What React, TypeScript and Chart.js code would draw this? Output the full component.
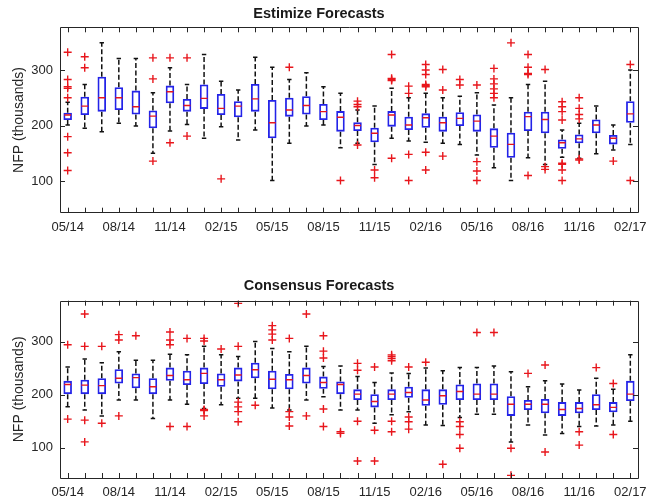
import React, { useEffect, useRef } from 'react';
import { Chart, registerables } from 'chart.js';

Chart.register(...registerables);

const months = ['05/14','06/14','07/14','08/14','09/14','10/14','11/14','12/14','01/15','02/15','03/15','04/15','05/15','06/15','07/15','08/15','09/15','10/15','11/15','12/15','01/16','02/16','03/16','04/16','05/16','06/16','07/16','08/16','09/16','10/16','11/16','12/16','01/17','02/17'];
const yTicks = [100, 200, 300];

// Estimize Forecasts
const estLo = [201,195,189,204,199,150,190,202,177,198,174,192,101,168,199,201,160,168,130,177,172,170,168,166,147,124,101,142,130,143,141,149,156,166];
const estQ1 = [210,219,225,228,220,195,240,225,230,219,215,225,177,216,220,210,189,190,170,198,192,196,189,199,189,160,142,190,186,158,168,186,166,205];
const estMed = [219,235,250,250,234,217,261,236,249,231,235,248,205,228,236,225,215,200,186,219,201,214,205,213,208,181,166,216,211,169,176,201,177,221];
const estQ3 = [223,252,288,269,263,227,272,248,274,257,244,275,246,250,253,239,226,206,196,226,216,222,216,224,220,195,187,225,225,175,184,211,183,244];
const estHi = [242,274,349,321,321,259,304,274,328,280,264,323,305,283,295,270,258,228,235,267,250,258,250,253,259,237,250,274,280,192,204,235,201,300];
const estOut = [[332,283,270,267,250,180,151,119],[324,304],[],[],[],[322,284,136],[322,169],[322,181],[],[104],[],[],[],[305],[],[],[101],[244,238,234,165],[120,106],[328,285,283,281,141],[271,258,148,101],[310,300,292,274,272,270,152,120],[301,264,145],[283,273],[273,135,118,101],[303,284,275,266,258,250],[349],[328,305,294,292,110],[301,126,121],[243,234,225,210,132,130,120,101],[250,231,220,212,140,138],[],[136],[310,101]];

// Consensus Forecasts
const conLo = [177,171,160,190,190,155,190,182,174,181,193,193,175,171,190,196,171,171,146,162,168,143,142,157,163,163,111,143,124,127,140,141,143,150];
const conQ1 = [201,201,201,221,212,201,226,218,220,215,225,231,210,210,221,211,201,190,176,190,194,179,181,190,190,190,160,171,165,160,165,171,167,188];
const conMed = [219,218,217,231,232,215,236,228,240,228,237,247,229,228,236,223,219,201,187,201,204,190,198,206,201,201,182,182,182,172,174,181,176,201];
const conQ3 = [226,228,231,248,240,231,251,245,251,240,251,260,245,239,251,234,225,210,201,210,215,210,210,219,221,221,197,190,192,186,186,201,186,226];
const conHi = [252,267,260,281,265,265,276,275,291,275,272,300,287,281,291,253,254,234,223,241,240,250,245,251,251,254,243,215,226,220,209,231,210,275];
const conOut = [[294,154],[352,291,152,111],[291,146],[313,303,160],[311],[],[318,303,294,140],[306,140],[306,301,172,170,160],[286],[372,291,186,177,168,149],[180],[330,322,314,303],[306,168,158,141],[352,160],[311,282,269,173,140],[130,127],[259,246,150,75],[252,133,75],[275,272,268,264,150,130],[252,158,149,135],[261],[69],[149,140,125,99],[317],[317],[99,48],[240],[256,92],[],[130,105],[251],[221,125],[]];

const FONT = "'Liberation Sans', Arial, Helvetica, sans-serif";
const BLUE = '#2323e8';
const RED = '#e8161c';
const DARK = '#262626';

const framePlugin = {
  id: 'matlabFrame',
  afterDatasetsDraw(chart: any) {
    const { ctx, chartArea: a, scales } = chart;
    ctx.save();
    ctx.strokeStyle = DARK;
    ctx.lineWidth = 1;
    ctx.beginPath();
    ctx.rect(Math.round(a.left) + 0.5, Math.round(a.top) + 0.5, Math.round(a.right - a.left), Math.round(a.bottom - a.top));
    months.forEach((_, i) => {
      const x = Math.round(scales.x.getPixelForValue(i)) + 0.5;
      ctx.moveTo(x, a.bottom);
      ctx.lineTo(x, a.bottom - 5);
      ctx.moveTo(x, a.top);
      ctx.lineTo(x, a.top + 5);
    });
    yTicks.forEach((v) => {
      const y = Math.round(scales.y.getPixelForValue(v)) + 0.5;
      ctx.moveTo(a.left, y);
      ctx.lineTo(a.left + 5, y);
      ctx.moveTo(a.right, y);
      ctx.lineTo(a.right - 5, y);
    });
    ctx.stroke();
    ctx.restore();
  },
};

function buildConfig(
  title: string,
  lo: number[], q1: number[], med: number[], q3: number[], hi: number[], out: number[][],
  titlePad: { top: number; bottom: number }, xHeight: number
): any {
  const boxes = months.map((_, i) => ({ x: i, y: [q1[i], q3[i]] }));
  const whiskers: any[] = [];
  const caps: any[] = [];
  months.forEach((_, i) => {
    whiskers.push({ x: i, y: q3[i] }, { x: i, y: hi[i] }, { x: i, y: null });
    whiskers.push({ x: i, y: q1[i] }, { x: i, y: lo[i] }, { x: i, y: null });
    caps.push({ x: i, y: hi[i] }, { x: i, y: lo[i] });
  });
  const medians = months.map((_, i) => ({ x: i, y: med[i] }));
  const outliers: any[] = [];
  out.forEach((arr, i) => arr.forEach((v) => outliers.push({ x: i, y: v })));

  return {
    type: 'bar',
    data: {
      datasets: [
        {
          type: 'line',
          data: whiskers,
          borderColor: '#111',
          borderWidth: 1.5,
          borderDash: [5, 2.5],
          pointRadius: 0,
          pointHoverRadius: 0,
          spanGaps: false,
          tension: 0,
          order: 4,
        },
        {
          type: 'scatter',
          data: caps,
          showLine: false,
          pointStyle: 'line',
          pointRadius: 2.2,
          pointHoverRadius: 2.2,
          pointBorderColor: '#111',
          pointBackgroundColor: '#111',
          pointBorderWidth: 1.5,
          order: 3,
        },
        {
          type: 'bar',
          data: boxes,
          backgroundColor: 'rgba(255,255,255,0)',
          borderColor: BLUE,
          borderWidth: 1.8,
          borderSkipped: false,
          barPercentage: 0.5,
          categoryPercentage: 1,
          order: 2,
        },
        {
          type: 'scatter',
          data: medians,
          showLine: false,
          pointStyle: 'line',
          pointRadius: 3.4,
          pointHoverRadius: 3.4,
          pointBorderColor: RED,
          pointBackgroundColor: RED,
          pointBorderWidth: 1.4,
          order: 1,
        },
        {
          type: 'scatter',
          data: outliers,
          showLine: false,
          pointStyle: 'cross',
          pointRadius: 4,
          pointHoverRadius: 4,
          pointBorderColor: RED,
          pointBackgroundColor: RED,
          pointBorderWidth: 1.4,
          order: 0,
        },
      ],
    },
    options: {
      responsive: false,
      maintainAspectRatio: false,
      animation: false,
      events: [],
      layout: { padding: { top: 0, left: 0, right: 8, bottom: 0 } },
      plugins: {
        legend: { display: false },
        tooltip: { enabled: false },
        title: {
          display: true,
          text: title,
          color: '#1a1a1a',
          font: { family: FONT, size: 14.5, weight: 'bold', lineHeight: 1.2 },
          padding: titlePad,
        },
      },
      scales: {
        x: {
          type: 'linear',
          min: -0.45,
          max: 33.45,
          offset: false,
          grid: { display: false, drawTicks: false },
          border: { display: false },
          afterBuildTicks: (scale: any) => {
            scale.ticks = months.map((_, i) => ({ value: i }));
          },
          afterFit: (scale: any) => {
            scale.height = xHeight;
            scale.paddingLeft = 0;
            scale.paddingRight = 0;
          },
          ticks: {
            autoSkip: false,
            maxRotation: 0,
            minRotation: 0,
            padding: 7,
            color: DARK,
            font: { family: FONT, size: 13 },
            callback: (value: any) => {
              const i = Math.round(Number(value));
              return i % 3 === 0 ? months[i] : '';
            },
          },
        },
        y: {
          type: 'linear',
          min: 43,
          max: 377,
          beginAtZero: false,
          grid: { display: false, drawTicks: false },
          border: { display: false },
          afterBuildTicks: (scale: any) => {
            scale.ticks = yTicks.map((v) => ({ value: v }));
          },
          afterFit: (scale: any) => {
            scale.width = 60;
            scale.paddingTop = 0;
            scale.paddingBottom = 0;
          },
          ticks: {
            padding: 7,
            color: DARK,
            font: { family: FONT, size: 13 },
            callback: (value: any) => String(value),
          },
          title: {
            display: true,
            text: 'NFP (thousands)',
            color: DARK,
            font: { family: FONT, size: 14, lineHeight: 1.2 },
            padding: { top: 10.6, bottom: 0 },
          },
        },
      },
    },
    plugins: [framePlugin],
  };
}

function Panel(props: { config: any; top: number; height: number }) {
  const ref = useRef<HTMLCanvasElement | null>(null);
  useEffect(() => {
    if (!ref.current) return;
    const chart = new Chart(ref.current, props.config);
    return () => chart.destroy();
  }, []);
  return (
    <div style={{ position: 'absolute', left: 0, top: props.top, width: 646, height: props.height }}>
      <canvas ref={ref} width={646} height={props.height} style={{ display: 'block' }} />
    </div>
  );
}

export default function App() {
  const topCfg = buildConfig('Estimize Forecasts', estLo, estQ1, estMed, estQ3, estHi, estOut, { top: 5.6, bottom: 4.3 }, 38.3);
  const botCfg = buildConfig('Consensus Forecasts', conLo, conQ1, conMed, conQ3, conHi, conOut, { top: 26.3, bottom: 6 }, 24);
  return (
    <div style={{ position: 'fixed', left: 0, top: 0, width: 646, height: 502, background: '#fff', overflow: 'hidden' }}>
      <Panel config={topCfg} top={0} height={251} />
      <Panel config={botCfg} top={251} height={251} />
    </div>
  );
}
